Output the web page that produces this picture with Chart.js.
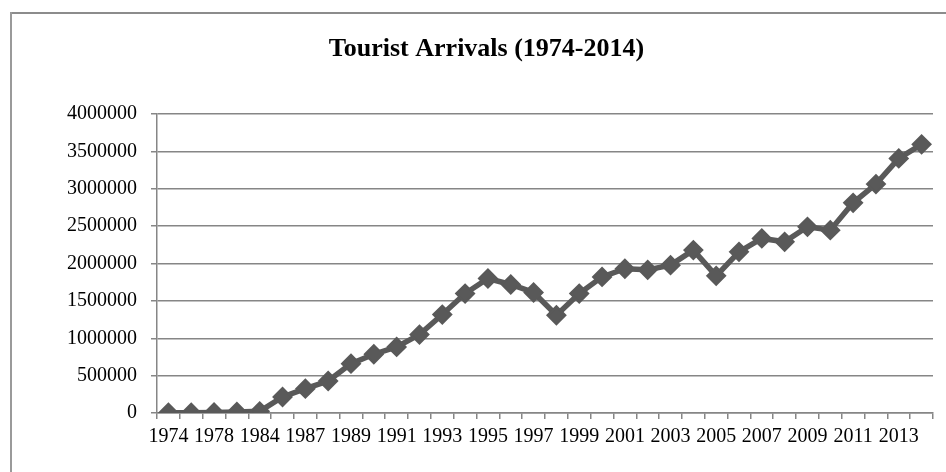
<!DOCTYPE html>
<html>
<head>
<meta charset="utf-8">
<title>Tourist Arrivals (1974-2014)</title>
<script src="https://cdn.jsdelivr.net/npm/chart.js@4/dist/chart.umd.min.js"></script>
<style>
  html, body { margin: 0; padding: 0; background: #fff; }
  #wrap { width: 946px; height: 472px; position: relative; }
</style>
</head>
<body>
<div id="wrap"><canvas id="arrivalsChart"></canvas></div>
<script>
// ===== Data =====
const years = [
  "1974", "1976", "1978", "1980", "1984", "1986", "1987", "1988", "1989", "1990",
  "1991", "1992", "1993", "1994", "1995", "1996", "1997", "1998", "1999", "2000",
  "2001", "2002", "2003", "2004", "2005", "2006", "2007", "2008", "2009", "2010",
  "2011", "2012", "2013", "2014"
];
const arrivals = [
  4000, 3000, 7000, 15000, 22000, 214000, 326000, 428000, 660000, 786000,
  884000, 1049000, 1317000, 1598000, 1799000, 1719000, 1612000, 1308000, 1598000, 1821000,
  1930000, 1915000, 1978000, 2179000, 1835000, 2156000, 2335000, 2290000, 2491000, 2446000,
  2812000, 3062000, 3406000, 3594000
];
const yTicks = [0, 500000, 1000000, 1500000, 2000000, 2500000, 3000000, 3500000, 4000000];

const serif = "'Liberation Serif', 'Times New Roman', serif";
const gridGrey = '#868686';
const lineGrey = '#595959';

// ===== Outer frame =====
const framePlugin = {
  id: 'frame',
  beforeDraw(chart) {
    const ctx = chart.ctx;
    ctx.save();
    ctx.fillStyle = '#8c8c8c';
    ctx.fillRect(10, 12, chart.width - 10, 2);
    ctx.fillStyle = '#9a9a9a';
    ctx.fillRect(10, 12, 2, chart.height - 12);
    ctx.restore();
  }
};

// ===== Chart =====
const ctx = document.getElementById('arrivalsChart').getContext('2d');
new Chart(ctx, {
  type: 'line',
  data: {
    labels: years,
    datasets: [{
      label: 'Tourist Arrivals',
      data: arrivals,
      borderColor: lineGrey,
      backgroundColor: lineGrey,
      borderWidth: 5.5,
      pointStyle: 'rectRot',
      pointRadius: 9,
      pointBorderWidth: 2,
      pointBackgroundColor: lineGrey,
      pointBorderColor: lineGrey,
      tension: 0
    }]
  },
  options: {
    responsive: true,
    maintainAspectRatio: false,
    animation: false,
    // left padding shifts the title centre to match the original
    layout: { padding: { left: 40, right: 13, top: 0, bottom: 0 } },
    plugins: {
      legend: { display: false },
      tooltip: { enabled: false },
      title: {
        display: true,
        text: 'Tourist Arrivals (1974-2014)',
        color: '#000',
        font: { family: serif, size: 26, weight: 'bold' },
        padding: { top: 34, bottom: 48.8 }
      }
    },
    scales: {
      x: {
        offset: true,
        grid: {
          offset: true,
          drawOnChartArea: false,
          drawTicks: true,
          tickLength: 6,
          color: gridGrey,
          lineWidth: 1.5
        },
        border: { color: gridGrey, width: 1.5 },
        ticks: {
          autoSkip: false,
          maxRotation: 0,
          minRotation: 0,
          padding: 6,
          color: '#000',
          font: { family: serif, size: 20 },
          callback: (val, i) => (i % 2 === 0 ? years[i] : '')
        },
        afterFit: (scale) => { scale.height = 59; }
      },
      y: {
        min: yTicks[0],
        max: yTicks[yTicks.length - 1],
        afterBuildTicks: (scale) => { scale.ticks = yTicks.map(v => ({ value: v })); },
        grid: {
          color: gridGrey,
          lineWidth: 1.5,
          tickLength: 6
        },
        border: { color: gridGrey, width: 1.5 },
        ticks: {
          padding: 14,
          color: '#000',
          font: { family: serif, size: 20 },
          callback: (v) => String(v)
        },
        afterFit: (scale) => { scale.width = 117; }
      }
    }
  },
  plugins: [framePlugin]
});
</script>
</body>
</html>
